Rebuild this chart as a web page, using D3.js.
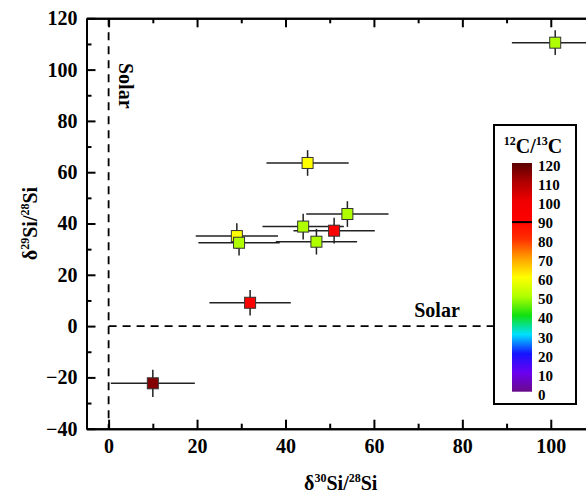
<!DOCTYPE html>
<html>
<head>
<meta charset="utf-8">
<script src="https://cdn.jsdelivr.net/npm/d3@7/dist/d3.min.js"></script>
<style>
body{margin:0;background:#fff}
text{font-family:"Liberation Serif","Times New Roman",serif;font-weight:bold;fill:#000}
</style>
</head>
<body>
<script>
let width = 586
let height = 497

// delta30Si, delta29Si, errors and 12C/13C of each grain
let si30 = [101, 45, 54, 44, 51, 47, 29, 29.5, 32, 10]
let si29 = [110.5, 63.6, 43.7, 38.8, 37.2, 32.9, 35.1, 32.5, 9.1, -22.3]
let si30err = [9.8, 9.3, 9.3, 9.2, 9.2, 9.2, 9.3, 9.2, 9.2, 9.5]
let si29err = [4.8, 5, 5, 5, 5, 5, 5, 5, 5, 5.3]
let ratioC = [50, 60, 50, 50, 90, 50, 60, 50, 90, 115]

let xTicks = [0, 20, 40, 60, 80, 100]
let xMinor = [10, 30, 50, 70, 90]
let yTicks = [-40, -20, 0, 20, 40, 60, 80, 100, 120]
let yMinor = [-30, -10, 10, 30, 50, 70, 90, 110]

// colour bar
let cStops = [0, 10, 20, 30, 40, 50, 60, 70, 80, 90, 100, 110, 120]
let cColors = ["#6a0a8a", "#6a00f0", "#1414ff", "#00e0ff", "#10e010", "#b0ff00", "#ffff00",
               "#ffa000", "#ff3000", "#ff0000", "#f00000", "#b00000", "#5a0000"]
let cLabels = [0, 10, 20, 30, 40, 50, 60, 70, 80, 90, 100, 110, 120]
let solarC = 89

let m = {left: 86.5, right: 595, top: 18.3, bottom: 428.7}

let x = d3.scaleLinear().domain([-5, 110]).range([m.left, m.right])
let y = d3.scaleLinear().domain([-40, 120]).range([m.bottom, m.top])
let color = d3.scaleLinear().domain(cStops).range(cColors)

let svg = d3.select("body").append("svg")
    .attr("width", width)
    .attr("height", height)

// solar dashed lines
svg.append("line")
    .attr("x1", x(0)).attr("x2", x(0))
    .attr("y1", m.top).attr("y2", m.bottom)
    .attr("stroke", "#000").attr("stroke-width", 1.8)
    .attr("stroke-dasharray", "8,6")
svg.append("line")
    .attr("x1", x(0)).attr("x2", 494)
    .attr("y1", y(0)).attr("y2", y(0))
    .attr("stroke", "#000").attr("stroke-width", 1.8)
    .attr("stroke-dasharray", "8,6")

svg.append("text")
    .attr("transform", "translate(119,63) rotate(90)")
    .style("font-size", "20px")
    .text("Solar")
svg.append("text")
    .attr("x", 437).attr("y", 317)
    .attr("text-anchor", "middle")
    .style("font-size", "20px")
    .text("Solar")

// axes
function styleAxis(g){
    g.attr("font-family", null).attr("font-size", null)
    g.select(".domain").attr("stroke-width", 2)
    g.selectAll(".tick line").attr("stroke-width", 2)
    g.selectAll(".tick text")
        .style("font-size", "20px")
        .style("font-family", '"Liberation Serif", serif')
        .style("font-weight", "bold")
}

svg.append("g").attr("transform", "translate(0," + m.bottom + ")")
    .call(d3.axisBottom(x).tickValues(xTicks).tickSizeInner(-9).tickSizeOuter(0).tickPadding(10))
    .call(styleAxis)
svg.append("g").attr("transform", "translate(0," + m.bottom + ")")
    .call(d3.axisBottom(x).tickValues(xMinor).tickSizeInner(-5).tickSizeOuter(0).tickFormat(""))
    .call(styleAxis)
svg.append("g").attr("transform", "translate(0," + m.top + ")")
    .call(d3.axisTop(x).tickValues(xTicks).tickSizeInner(-9).tickSizeOuter(0).tickFormat(""))
    .call(styleAxis)
svg.append("g").attr("transform", "translate(0," + m.top + ")")
    .call(d3.axisTop(x).tickValues(xMinor).tickSizeInner(-5).tickSizeOuter(0).tickFormat(""))
    .call(styleAxis)

svg.append("g").attr("transform", "translate(" + m.left + ",0)")
    .call(d3.axisLeft(y).tickValues(yTicks).tickSizeInner(-9).tickSizeOuter(0).tickPadding(9))
    .call(styleAxis)
svg.append("g").attr("transform", "translate(" + m.left + ",0)")
    .call(d3.axisLeft(y).tickValues(yMinor).tickSizeInner(-5).tickSizeOuter(0).tickFormat(""))
    .call(styleAxis)
svg.append("g").attr("transform", "translate(" + m.right + ",0)")
    .call(d3.axisRight(y).tickValues(yTicks).tickSizeInner(-9).tickSizeOuter(0).tickFormat(""))
    .call(styleAxis)

// axis titles
let xt = svg.append("text")
    .attr("x", (m.left + m.right) / 2).attr("y", 490)
    .attr("text-anchor", "middle")
    .style("font-size", "20px")
xt.append("tspan").text("δ")
xt.append("tspan").attr("dy", -8).style("font-size", "12px").text("30")
xt.append("tspan").attr("dy", 8).text("Si/")
xt.append("tspan").attr("dy", -8).style("font-size", "12px").text("28")
xt.append("tspan").attr("dy", 8).text("Si")

let yt = svg.append("text")
    .attr("transform", "translate(37," + (m.top + m.bottom) / 2 + ") rotate(-90)")
    .attr("text-anchor", "middle")
    .style("font-size", "20px")
yt.append("tspan").text("δ")
yt.append("tspan").attr("dy", -8).style("font-size", "12px").text("29")
yt.append("tspan").attr("dy", 8).text("Si/")
yt.append("tspan").attr("dy", -8).style("font-size", "12px").text("28")
yt.append("tspan").attr("dy", 8).text("Si")

// data
let idx = d3.range(si30.length)

svg.selectAll("line.xerr")
    .data(idx).enter().append("line")
    .attr("class", "xerr")
    .attr("x1", function(i){ return x(si30[i] - si30err[i]) })
    .attr("x2", function(i){ return x(si30[i] + si30err[i]) })
    .attr("y1", function(i){ return y(si29[i]) })
    .attr("y2", function(i){ return y(si29[i]) })
    .attr("stroke", "#222").attr("stroke-width", 1.5)
svg.selectAll("line.yerr")
    .data(idx).enter().append("line")
    .attr("class", "yerr")
    .attr("x1", function(i){ return x(si30[i]) })
    .attr("x2", function(i){ return x(si30[i]) })
    .attr("y1", function(i){ return y(si29[i] - si29err[i]) })
    .attr("y2", function(i){ return y(si29[i] + si29err[i]) })
    .attr("stroke", "#222").attr("stroke-width", 1.5)

let sq = 11
svg.selectAll("rect.pt")
    .data(idx).enter().append("rect")
    .attr("class", "pt")
    .attr("x", function(i){ return x(si30[i]) - sq / 2 })
    .attr("y", function(i){ return y(si29[i]) - sq / 2 })
    .attr("width", sq).attr("height", sq)
    .attr("fill", function(i){ return color(ratioC[i]) })
    .attr("stroke", "#333").attr("stroke-width", 1)

// colour bar legend
let lg = svg.append("g")
lg.append("rect")
    .attr("x", 494).attr("y", 125)
    .attr("width", 82).attr("height", 279)
    .attr("fill", "#fff").attr("stroke", "#000").attr("stroke-width", 2)

let cy = d3.scaleLinear().domain([0, 120]).range([391.7, 163])

let grad = svg.append("defs").append("linearGradient")
    .attr("id", "cbar")
    .attr("x1", 0).attr("x2", 0).attr("y1", 1).attr("y2", 0)
grad.selectAll("stop")
    .data(cStops).enter().append("stop")
    .attr("offset", function(d){ return d / 120 })
    .attr("stop-color", function(d, i){ return cColors[i] })

lg.append("rect")
    .attr("x", 512).attr("y", cy(120))
    .attr("width", 20).attr("height", cy(0) - cy(120))
    .attr("fill", "url(#cbar)")

lg.append("line")
    .attr("x1", 512).attr("x2", 532)
    .attr("y1", cy(solarC)).attr("y2", cy(solarC))
    .attr("stroke", "#000").attr("stroke-width", 2)

lg.selectAll("text.clab")
    .data(cLabels).enter().append("text")
    .attr("class", "clab")
    .attr("x", 538)
    .attr("y", function(d){ return cy(d) + 8 })
    .style("font-size", "15px")
    .text(function(d){ return d })

let lt = lg.append("text")
    .attr("x", 533).attr("y", 153)
    .attr("text-anchor", "middle")
    .style("font-size", "20px")
lt.append("tspan").attr("dy", -8).style("font-size", "12px").text("12")
lt.append("tspan").attr("dy", 8).text("C/")
lt.append("tspan").attr("dy", -8).style("font-size", "12px").text("13")
lt.append("tspan").attr("dy", 8).text("C")
</script>
</body>
</html>
